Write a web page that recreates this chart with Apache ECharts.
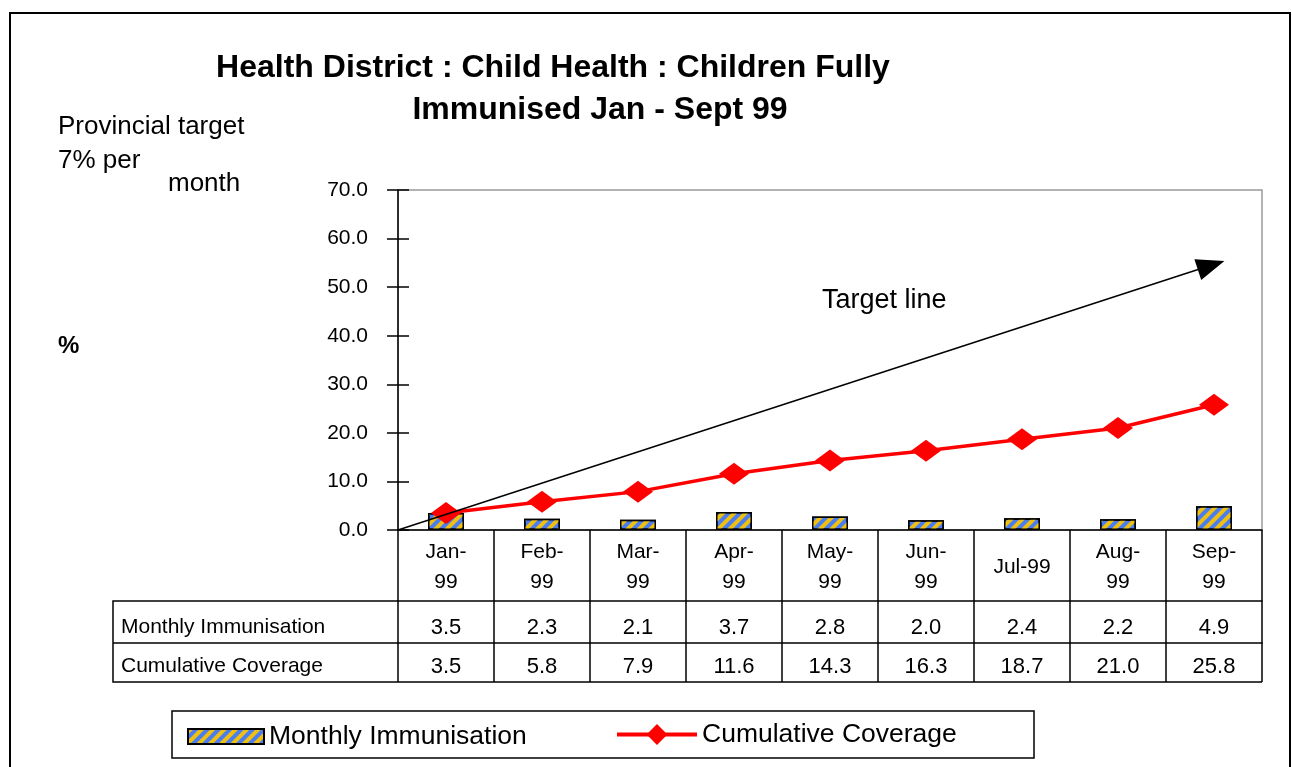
<!DOCTYPE html>
<html>
<head>
<meta charset="utf-8">
<script src="https://cdn.jsdelivr.net/npm/echarts@6/dist/echarts.min.js"></script>
<style>
  body { margin: 0; background: #fff; }
  #chart { width: 1292px; height: 767px; }
</style>
</head>
<body>
<div id="chart"></div>
<script>
// data
const months = ['Jan-99', 'Feb-99', 'Mar-99', 'Apr-99', 'May-99', 'Jun-99', 'Jul-99', 'Aug-99', 'Sep-99'];
const monthly = [3.5, 2.3, 2.1, 3.7, 2.8, 2.0, 2.4, 2.2, 4.9];
const cumulative = [3.5, 5.8, 7.9, 11.6, 14.3, 16.3, 18.7, 21.0, 25.8];
const yTicks = [0, 70, 10]; // min, max, interval
// target arrow, x in category slots (0 = left edge of Jan)
const targetStart = [0, 0];
const targetEnd = [8.47, 54.5];

const FONT = 'Liberation Sans, Arial, sans-serif';
const myChart = echarts.init(document.getElementById('chart'));

const tickStyle = { color: '#000', width: 1.5 };
const legendText = { fontSize: 26.5, fontFamily: FONT, color: '#000' };

myChart.setOption({
  backgroundColor: '#fff',
  textStyle: { fontFamily: FONT, color: '#000' },
  animation: false,
  grid: {
    left: 398, top: 190, width: 864, height: 340,
    show: true, borderColor: '#999', borderWidth: 1.5,
  },
  legend: [
    {
      left: 182, top: 718,
      itemWidth: 76, itemHeight: 15,
      textStyle: legendText,
      data: [{ name: 'Monthly Immunisation', icon: 'rect' }],
    },
    {
      left: 610, top: 716,
      itemWidth: 80, itemHeight: 26,
      textStyle: legendText,
      lineStyle: { width: 4 },
      data: ['Cumulative Coverage'],
    },
  ],
  xAxis: [
    {
      type: 'category',
      data: months,
      axisLine: { onZero: false, lineStyle: tickStyle },
      axisTick: { show: true, interval: 0, length: 71, lineStyle: tickStyle },
      axisLabel: {
        fontSize: 21, lineHeight: 30, color: '#000', margin: 37, verticalAlign: 'middle', interval: 0,
        formatter: (v) => (v === 'Jul-99' ? v : v.replace('-', '-\n')),
      },
    },
    {
      type: 'category',
      data: months,
      position: 'bottom',
      offset: 71,
      axisLine: { onZero: false, lineStyle: tickStyle },
      axisTick: { show: true, interval: 0, length: 42, lineStyle: tickStyle },
      axisLabel: {
        fontSize: 22, color: '#000', margin: 27, verticalAlign: 'middle', interval: 0,
        formatter: (v, i) => monthly[i].toFixed(1),
      },
    },
    {
      type: 'category',
      data: months,
      position: 'bottom',
      offset: 113,
      axisLine: { onZero: false, lineStyle: tickStyle },
      axisTick: { show: true, interval: 0, length: 39, lineStyle: tickStyle },
      axisLabel: {
        fontSize: 22, color: '#000', margin: 24, verticalAlign: 'middle', interval: 0,
        formatter: (v, i) => cumulative[i].toFixed(1),
      },
    },
    {
      type: 'value', min: 0, max: months.length, show: false,
    },
  ],
  yAxis: [
    {
      type: 'value',
      min: yTicks[0], max: yTicks[1], interval: yTicks[2],
      axisLine: { show: true, lineStyle: tickStyle },
      axisTick: { show: true, length: 11, lineStyle: tickStyle },
      splitLine: { show: false },
      axisLabel: { fontSize: 21, color: '#000', margin: 30, formatter: (v) => v.toFixed(1) },
    },
    {
      // same scale, only to draw the inner half of the crossing ticks
      type: 'value',
      position: 'left',
      min: yTicks[0], max: yTicks[1], interval: yTicks[2],
      axisLine: { show: false },
      axisTick: { show: true, inside: true, length: 11, lineStyle: tickStyle },
      splitLine: { show: false },
      axisLabel: { show: false },
    },
  ],
  series: [
    {
      name: 'Monthly Immunisation',
      type: 'bar',
      barWidth: 36,
      data: monthly,
      itemStyle: {
        color: '#4a7df0',
        borderColor: '#000',
        borderWidth: 1.5,
        decal: {
          color: '#f0c010',
          dashArrayX: [1, 0],
          dashArrayY: [4, 4],
          rotation: -Math.PI / 4,
        },
      },
    },
    {
      name: 'Cumulative Coverage',
      type: 'line',
      data: cumulative,
      symbol: 'diamond',
      symbolSize: [30, 22],
      lineStyle: { color: '#ff0000', width: 3.5 },
      itemStyle: { color: '#ff0000' },
      z: 3,
    },
    {
      name: 'Target',
      type: 'line',
      xAxisIndex: 3,
      data: [],
      markLine: {
        silent: true,
        symbol: ['none', 'triangle'],
        symbolSize: [22, 28],
        label: { show: false },
        lineStyle: { color: '#000', width: 1.5, type: 'solid' },
        data: [[{ coord: targetStart }, { coord: targetEnd }]],
      },
    },
  ],
  graphic: [
    // outer frame
    { type: 'rect', shape: { x: 10, y: 13, width: 1280, height: 780 }, style: { fill: 'none', stroke: '#000', lineWidth: 2 } },
    // title
    { type: 'text', x: 553, y: 68, style: { text: 'Health District : Child Health : Children Fully', font: 'bold 32px ' + FONT, fill: '#000', align: 'center', verticalAlign: 'middle' } },
    { type: 'text', x: 600, y: 110, style: { text: 'Immunised Jan - Sept 99', font: 'bold 32px ' + FONT, fill: '#000', align: 'center', verticalAlign: 'middle' } },
    // left notes
    { type: 'text', x: 58, y: 127, style: { text: 'Provincial target', font: '26px ' + FONT, fill: '#000', verticalAlign: 'middle' } },
    { type: 'text', x: 58, y: 161, style: { text: '7% per', font: '26px ' + FONT, fill: '#000', verticalAlign: 'middle' } },
    { type: 'text', x: 168, y: 184, style: { text: 'month', font: '26px ' + FONT, fill: '#000', verticalAlign: 'middle' } },
    { type: 'text', x: 58, y: 346, style: { text: '%', font: 'bold 24px ' + FONT, fill: '#000', verticalAlign: 'middle' } },
    { type: 'text', x: 822, y: 301, style: { text: 'Target line', font: '27px ' + FONT, fill: '#000', verticalAlign: 'middle' } },
    // table header column
    { type: 'polyline', shape: { points: [[398, 601], [113, 601], [113, 682], [1262, 682]] }, style: { fill: 'none', stroke: '#000', lineWidth: 1.5 } },
    { type: 'line', shape: { x1: 113, y1: 643, x2: 398, y2: 643 }, style: { stroke: '#000', lineWidth: 1.5 } },
    { type: 'text', x: 121, y: 627, style: { text: 'Monthly Immunisation', font: '21px ' + FONT, fill: '#000', verticalAlign: 'middle' } },
    { type: 'text', x: 121, y: 666, style: { text: 'Cumulative Coverage', font: '21px ' + FONT, fill: '#000', verticalAlign: 'middle' } },
    // legend box
    { type: 'rect', shape: { x: 172, y: 711, width: 862, height: 47 }, style: { fill: 'none', stroke: '#000', lineWidth: 1.5 } },
  ],
});
</script>
</body>
</html>
